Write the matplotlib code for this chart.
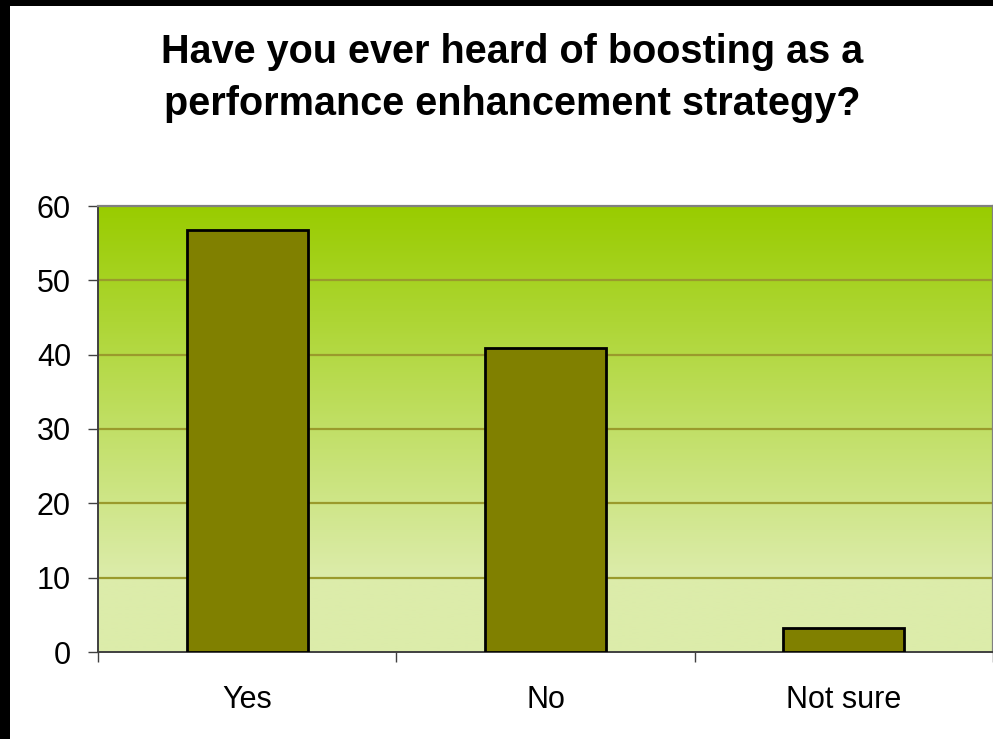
import numpy as np
import matplotlib
matplotlib.use("Agg")
import matplotlib.pyplot as plt
from matplotlib.colors import LinearSegmentedColormap
from matplotlib.patches import Rectangle

# Survey responses
categories = ["Yes", "No", "Not sure"]
values = [56.8, 40.9, 3.2]
yticks = [0, 10, 20, 30, 40, 50, 60]

title_line1 = "Have you ever heard of boosting as a"
title_line2 = "performance enhancement strategy?"

plt.rcParams["font.family"] = ["Liberation Sans", "DejaVu Sans"]

W, H = 993, 739
fig = plt.figure(figsize=(W / 100, H / 100), dpi=100)
fig.patch.set_facecolor("white")

# black frame along top and left edges
fig.add_artist(Rectangle((0, 1 - 6 / H), 1, 6 / H, transform=fig.transFigure,
                         facecolor="black", edgecolor="none", zorder=10))
fig.add_artist(Rectangle((0, 0), 10 / W, 1, transform=fig.transFigure,
                         facecolor="black", edgecolor="none", zorder=10))

left, right, bottom, top = 98, 993, 652, 206
ax = fig.add_axes([left / W, 1 - bottom / H, (right - left) / W, (bottom - top) / H])

ax.set_xlim(-0.5, 2.5)
ax.set_ylim(0, 60)

# vertical gradient background of the plot area
grad_cmap = LinearSegmentedColormap.from_list(
    "plotarea", [(0.0, "#dcecaa"), (0.17, "#dcecaa"), (1.0, "#99cc00")])
grad = np.linspace(0, 1, 256).reshape(-1, 1)
ax.imshow(grad, cmap=grad_cmap, aspect="auto", origin="lower",
          extent=(-0.5, 2.5, 0, 60), zorder=0, interpolation="bilinear")

# gridlines
for yv in yticks[1:-1]:
    ax.axhline(yv, color="#9a9a2c", linewidth=1.6, zorder=1)

x = np.arange(len(categories))
ax.bar(x, values, width=0.405, color="#808000", edgecolor="black",
       linewidth=2.0, zorder=3)

ax.set_yticks(yticks)
ax.set_yticklabels([str(v) for v in yticks], fontsize=22)
ax.set_xticks(x)
ax.set_xticklabels(categories, fontsize=22)
ax.set_xticks([-0.5, 0.5, 1.5, 2.5], minor=True)

ax.tick_params(axis="y", direction="out", length=7.5, width=1, color="#404040",
               pad=12)
ax.tick_params(axis="x", which="major", length=0, pad=24)
ax.tick_params(axis="x", which="minor", direction="out", length=7.5, width=1,
               color="#404040")

for side in ("left", "bottom"):
    ax.spines[side].set_color("#404040")
    ax.spines[side].set_linewidth(1.4)
for side in ("top", "right"):
    ax.spines[side].set_color("#808080")
    ax.spines[side].set_linewidth(1.6)

fig.text(512 / W, 1 - 63 / H, title_line1, ha="center", va="baseline",
         fontsize=28.5, fontweight="bold")
fig.text(512 / W, 1 - 115 / H, title_line2, ha="center", va="baseline",
         fontsize=28.5, fontweight="bold")

fig.savefig("out.png", dpi=100)
